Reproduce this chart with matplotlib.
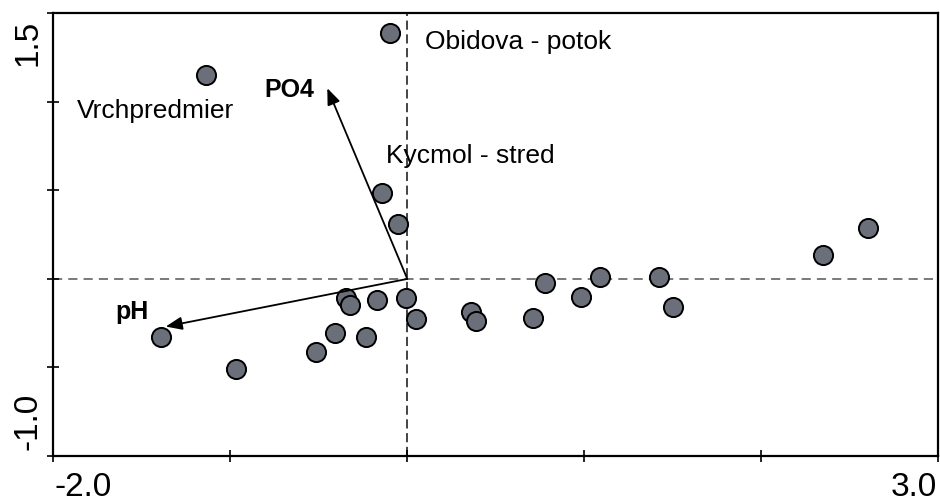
import matplotlib
matplotlib.use("Agg")
import matplotlib.pyplot as plt
from matplotlib.patches import FancyArrowPatch

plt.rcParams["font.family"] = ["Liberation Sans", "DejaVu Sans"]

# Site scores (axis 1, axis 2)
site_x = [-0.099, -1.139, -0.145, -0.051, 2.605, 2.349, 1.422, 1.503,
          -0.348, -0.325, -0.173, -0.009, 0.047, -0.408, -0.232, -0.518,
          0.362, 0.386, 0.710, 0.778, 0.980, 1.089, -1.390, -0.966]
site_y = [1.388, 1.153, 0.488, 0.311, 0.290, 0.136, 0.013, -0.156,
          -0.109, -0.147, -0.119, -0.109, -0.226, -0.303, -0.330, -0.414,
          -0.188, -0.237, -0.222, -0.024, -0.100, 0.010, -0.330, -0.510]

# Environmental variable vectors
env_names = ["PO4", "pH"]
env_x = [-0.452, -1.365]
env_y = [1.077, -0.269]
env_label_pos = [(-0.810, 1.030), (-1.647, -0.228)]

# Labelled sites
site_labels = ["Vrchpredmier", "Obidova - potok", "Kycmol - stred"]
site_label_pos = [(-1.866, 0.908), (0.100, 1.298), (-0.119, 0.654)]

x_range = (-2.0, 3.0)
y_range = (-1.0, 1.5)
x_ticks = [-2, -1, 0, 1, 2, 3]
y_ticks = [-1.0, -0.5, 0.0, 0.5, 1.0, 1.5]

fig = plt.figure(figsize=(9.4, 5.0), dpi=100)
W, H = 940, 500
ax = fig.add_axes([53.3 / W, 1 - 456 / H, (938.3 - 53.3) / W, (456 - 13.3) / H])
ax.set_xlim(*x_range)
ax.set_ylim(*y_range)

for s in ax.spines.values():
    s.set_linewidth(1.6)
    s.set_color("black")

ax.set_xticks(x_ticks)
ax.set_yticks(y_ticks)
ax.tick_params(direction="inout", length=9, width=1.2, labelbottom=False,
               labelleft=False, top=False, right=False)

# Origin lines
ax.axhline(0, color="#555555", lw=1.1, ls=(0, (6, 4)), zorder=1)
ax.axvline(0, color="#111111", lw=1.1, ls=(0, (6, 3)), zorder=1)

ax.scatter(site_x, site_y, s=190, c="#6b6f7a", edgecolors="black",
           linewidths=1.4, zorder=3)

for ex, ey in zip(env_x, env_y):
    arr = FancyArrowPatch((0, 0), (ex, ey),
                          arrowstyle="-|>,head_length=0.55,head_width=0.22",
                          mutation_scale=18, color="black", lw=1.3,
                          shrinkA=0, shrinkB=0, zorder=4)
    ax.add_patch(arr)

for name, (lx, ly) in zip(env_names, env_label_pos):
    ax.text(lx, ly, name, fontsize=18, fontweight="bold", ha="left",
            va="baseline", zorder=5)

for name, (lx, ly) in zip(site_labels, site_label_pos):
    ax.text(lx, ly, name, fontsize=19, ha="left", va="baseline", zorder=5)

# End labels on the axes
fig.text(55 / W, 1 - 496 / H, "-2.0", fontsize=24, ha="left", va="baseline")
fig.text(937 / W, 1 - 496 / H, "3.0", fontsize=24, ha="right", va="baseline")
fig.text(36.7 / W, 1 - 20 / H, "1.5", fontsize=24, rotation=90,
         rotation_mode="anchor", ha="right", va="baseline")
fig.text(36.7 / W, 1 - 450 / H, "-1.0", fontsize=24, rotation=90,
         rotation_mode="anchor", ha="left", va="baseline")

fig.savefig("out.png", dpi=100)
